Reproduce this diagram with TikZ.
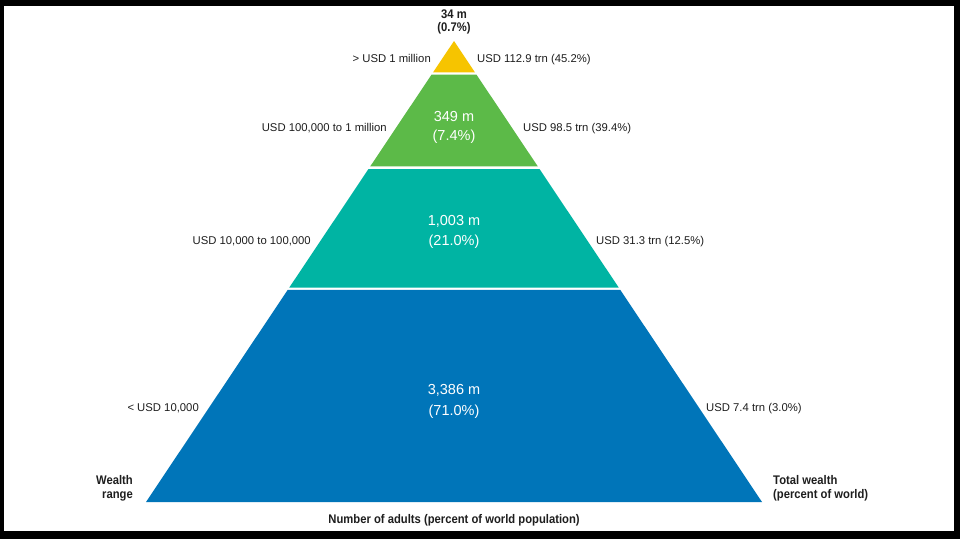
\documentclass[tikz,border=0pt]{standalone}
\usepackage{fontspec}
\setmainfont{Liberation Sans}
\newfontfamily\cnd[FakeStretch=0.9]{Liberation Sans}
\usetikzlibrary{calc}
\definecolor{cyellow}{RGB}{246,196,0}
\definecolor{cgreen}{RGB}{92,186,72}
\definecolor{cteal}{RGB}{0,180,163}
\definecolor{cblue}{RGB}{0,117,185}
\definecolor{ctext}{RGB}{30,30,30}
\begin{document}
\begin{tikzpicture}[x=1pt,y=-1pt,
  lab/.style={inner sep=0pt,text=ctext,font=\fontsize{11.3}{13}\selectfont},
  blab/.style={inner sep=0pt,text=ctext,font=\cnd\bfseries\fontsize{12.5}{14}\selectfont},
  num/.style={inner sep=0pt,text=white,font=\fontsize{14.5}{17}\selectfont}]
\useasboundingbox (0,0) rectangle (960,539);
\fill[black] (0,0) rectangle (960,539);
\fill[white] (4,6) rectangle (954,531);
\coordinate (A) at (454,41);
\coordinate (BL) at (146,502);
\coordinate (BR) at (762,502);
\fill[cyellow] (A) -- ($(A)!0.0683!(BR)$) -- ($(A)!0.0683!(BL)$) -- cycle;
\fill[cgreen] ($(A)!0.0727!(BL)$) -- ($(A)!0.0727!(BR)$) -- ($(A)!0.2722!(BR)$) -- ($(A)!0.2722!(BL)$) -- cycle;
\fill[cteal] ($(A)!0.2777!(BL)$) -- ($(A)!0.2777!(BR)$) -- ($(A)!0.5347!(BR)$) -- ($(A)!0.5347!(BL)$) -- cycle;
\fill[cblue] ($(A)!0.5401!(BL)$) -- ($(A)!0.5401!(BR)$) -- (BR) -- (BL) -- cycle;
% top
\node[blab,anchor=base] (t1) at (454,18) {34 m};
\node[blab,anchor=base] (t2) at (454,31) {(0.7\%)};
\node[lab,anchor=base east] (l1) at (431,62) {> USD 1 million};
\node[lab,anchor=base west] (r1) at (477,62) {USD 112.9 trn (45.2\%)};
% green
\node[num,anchor=base] (n2a) at (454,121) {349 m};
\node[num,anchor=base] (n2b) at (454,140) {(7.4\%)};
\node[lab,anchor=base east] (l2) at (387,131) {USD 100,000 to 1 million};
\node[lab,anchor=base west] (r2) at (523,131) {USD 98.5 trn (39.4\%)};
% teal
\node[num,anchor=base] (n3a) at (454,225) {1,003 m};
\node[num,anchor=base] (n3b) at (454,245) {(21.0\%)};
\node[lab,anchor=base east] (l3) at (311,244) {USD 10,000 to 100,000};
\node[lab,anchor=base west] (r3) at (596,244) {USD 31.3 trn (12.5\%)};
% blue
\node[num,anchor=base] (n4a) at (454,394) {3,386 m};
\node[num,anchor=base] (n4b) at (454,415) {(71.0\%)};
\node[lab,anchor=base east] (l4) at (199,411) {< USD 10,000};
\node[lab,anchor=base west] (r4) at (706,411) {USD 7.4 trn (3.0\%)};
% axis labels
\node[blab,anchor=base east] (w1) at (133,484) {Wealth};
\node[blab,anchor=base east] (w2) at (133,498) {range};
\node[blab,anchor=base west] (tw1) at (773,484) {Total wealth};
\node[blab,anchor=base west] (tw2) at (773,498) {(percent of world)};
\node[blab,anchor=base] (na) at (454,523) {Number of adults (percent of world population)};
\end{tikzpicture}
\end{document}
